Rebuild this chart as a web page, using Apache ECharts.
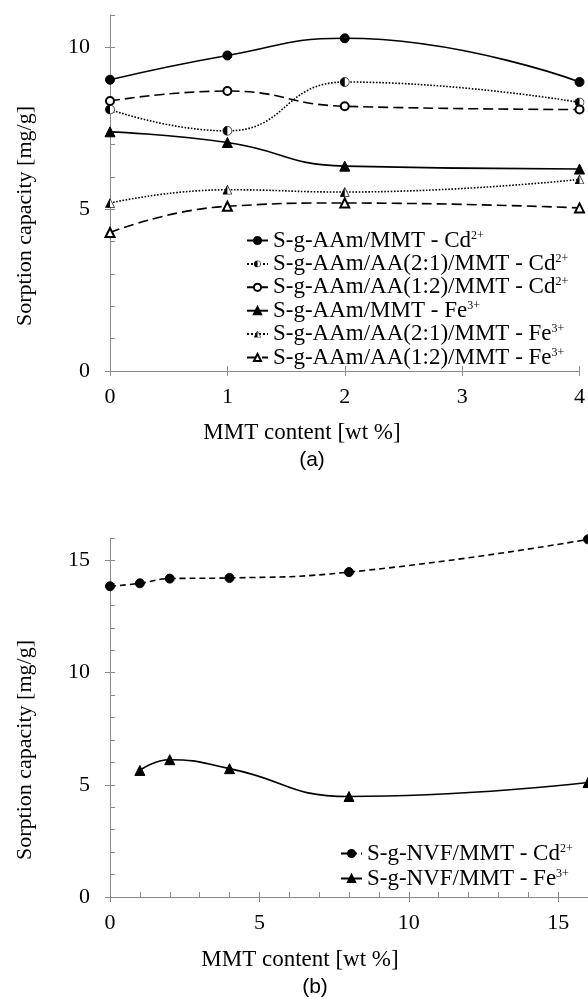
<!DOCTYPE html>
<html>
<head>
<meta charset="utf-8">
<script src="https://cdn.jsdelivr.net/npm/echarts@6/dist/echarts.min.js"></script>
<style>
  html, body { margin: 0; padding: 0; background: #fff; }
  #chart { width: 588px; height: 999px; }
</style>
</head>
<body>
<div id="chart"></div>
<script>
// ---- data (a) ----
var xA = [0, 1, 2, 4];
var namesA = [
  'S-g-AAm/MMT - Cd^2+',
  'S-g-AAm/AA(2:1)/MMT - Cd^2+',
  'S-g-AAm/AA(1:2)/MMT - Cd^2+',
  'S-g-AAm/MMT - Fe^3+',
  'S-g-AAm/AA(2:1)/MMT - Fe^3+',
  'S-g-AAm/AA(1:2)/MMT - Fe^3+'
];
var aamCd   = [9.0, 9.75, 10.28, 8.93];
var aa21Cd  = [8.08, 7.42, 8.93, 8.3];
var aa12Cd  = [8.34, 8.65, 8.18, 8.08];
var aamFe   = [7.39, 7.06, 6.33, 6.24];
var aa21Fe  = [5.19, 5.6, 5.53, 5.92];
var aa12Fe  = [4.28, 5.09, 5.19, 5.04];
var yTicksA = [0, 5, 10];
var xTicksA = [0, 1, 2, 3, 4];

// ---- data (b) ----
var xCdB = [0, 1, 2, 4, 8, 16];
var xFeB = [1, 2, 4, 8, 16];
var namesB = ['S-g-NVF/MMT - Cd^2+', 'S-g-NVF/MMT - Fe^3+'];
var nvfCd = [13.85, 13.98, 14.19, 14.22, 14.48, 15.94];
var nvfFe = [5.64, 6.12, 5.72, 4.48, 5.1];
var yTicksB = [0, 5, 10, 15];
var xTicksB = [0, 5, 10, 15];

var serif = '"Liberation Serif", "Times New Roman", serif';
var axisGray = '#8a8a8a';

function svgSym(svg) {
  return 'image://data:image/svg+xml;charset=utf-8,' + encodeURIComponent(svg);
}
// half-filled markers (left half black)
var halfCircle = svgSym("<svg xmlns='http://www.w3.org/2000/svg' width='20' height='20' viewBox='0 0 20 20'><circle cx='10' cy='10' r='9' fill='white' stroke='black' stroke-width='1.5'/><path d='M10 1 A9 9 0 0 0 10 19 Z' fill='black'/></svg>");
var halfTri = svgSym("<svg xmlns='http://www.w3.org/2000/svg' width='20' height='20' viewBox='0 0 20 20'><polygon points='10,1 19,19 1,19' fill='white' stroke='black' stroke-width='1.4'/><polygon points='10,1 10,19 1,19' fill='black'/></svg>");

function pairs(xs, ys) {
  return ys.map(function (v, i) { return [xs[i], v]; });
}

function lineSeries(name, xi, xs, ys, symbol, size, lineType) {
  return {
    name: name,
    type: 'line',
    xAxisIndex: xi,
    yAxisIndex: xi,
    data: pairs(xs, ys),
    smooth: true,
    symbol: symbol,
    symbolSize: size,
    showAllSymbol: true,
    itemStyle: { color: '#000', borderColor: '#000', borderWidth: 1 },
    lineStyle: { color: '#000', width: 1.6, type: lineType },
    emphasis: { disabled: true },
    z: 3
  };
}

function legendFmt(name) {
  var p = name.split('^');
  return '{m|' + p[0] + '}{s|' + p[1] + '}';
}
var legendText = {
  color: '#000',
  rich: {
    m: { fontFamily: serif, fontSize: 23, lineHeight: 22, color: '#000' },
    s: { fontFamily: serif, fontSize: 12, lineHeight: 12, verticalAlign: 'top', color: '#000' }
  }
};

function mainX(grid, max, labels) {
  return {
    type: 'value', gridIndex: grid, min: 0, max: max, interval: 1,
    axisLine: { onZero: false, lineStyle: { color: axisGray, width: 1 } },
    axisTick: { inside: true, length: 5, lineStyle: { color: axisGray } },
    axisLabel: { customValues: labels, margin: 15, color: '#000', fontFamily: serif, fontSize: 22 },
    splitLine: { show: false }
  };
}
function overX(grid, max, ticks) {
  return {
    type: 'value', gridIndex: grid, min: 0, max: max, position: 'bottom', offset: 0,
    axisLine: { show: false, onZero: false },
    axisTick: { inside: false, length: 5, customValues: ticks, lineStyle: { color: axisGray } },
    axisLabel: { show: false },
    splitLine: { show: false }
  };
}
function mainY(grid, max, labels) {
  return {
    type: 'value', gridIndex: grid, min: 0, max: max, interval: 1,
    axisLine: { show: true, onZero: false, lineStyle: { color: axisGray, width: 1 } },
    axisTick: { show: true, inside: true, length: 5, lineStyle: { color: axisGray } },
    axisLabel: { customValues: labels, margin: 20, color: '#000', fontFamily: serif, fontSize: 22 },
    splitLine: { show: false }
  };
}
function overY(grid, max, ticks) {
  return {
    type: 'value', gridIndex: grid, min: 0, max: max, position: 'left', offset: 0,
    axisLine: { show: false, onZero: false },
    axisTick: { show: true, inside: false, length: 5, customValues: ticks, lineStyle: { color: axisGray } },
    axisLabel: { show: false },
    splitLine: { show: false }
  };
}

function label(text, x, y, size, family, rot) {
  return {
    type: 'text', x: x, y: y, rotation: rot || 0, silent: true,
    style: { text: text, fill: '#000', fontSize: size, fontFamily: family, align: 'center', verticalAlign: 'middle' }
  };
}

var chart = echarts.init(document.getElementById('chart'));
var option = {
  backgroundColor: '#fff',
  animation: false,
  grid: [
    { left: 110, right: 0, top: 15, bottom: 628 },
    { left: 110, right: 0, top: 538, bottom: 102 }
  ],
  xAxis: [mainX(0, 4, xTicksA), overX(0, 4, xTicksA), mainX(1, 16, xTicksB), overX(1, 16, xTicksB)],
  yAxis: [mainY(0, 11, yTicksA), overY(0, 11, yTicksA), mainY(1, 16, yTicksB), overY(1, 16, yTicksB)],
  legend: [
    {
      data: namesA, orient: 'vertical', left: 246, top: 229, padding: 0,
      itemWidth: 21, itemHeight: 9, itemGap: 0.4, selectedMode: false,
      formatter: legendFmt, textStyle: legendText
    },
    {
      data: namesB, orient: 'vertical', left: 340, top: 842, padding: 0,
      itemWidth: 21, itemHeight: 9, itemGap: 2, selectedMode: false,
      formatter: legendFmt, textStyle: legendText
    }
  ],
  graphic: [
    label('Sorption capacity [mg/g]', 25, 216, 22, serif, Math.PI / 2),
    label('MMT content [wt %]', 302, 433, 23, serif),
    label('(a)', 312, 460, 21, '"Liberation Sans", Arial, sans-serif'),
    label('Sorption capacity [mg/g]', 25, 750, 22, serif, Math.PI / 2),
    label('MMT content [wt %]', 300, 960, 23, serif),
    label('(b)', 315, 987, 21, '"Liberation Sans", Arial, sans-serif')
  ],
  series: [
    lineSeries(namesA[0], 0, xA, aamCd, 'circle', 9, 'solid'),
    lineSeries(namesA[1], 0, xA, aa21Cd, halfCircle, 10, 'dotted'),
    lineSeries(namesA[2], 0, xA, aa12Cd, 'emptyCircle', 8, [10, 5]),
    lineSeries(namesA[3], 0, xA, aamFe, 'triangle', 10, 'solid'),
    lineSeries(namesA[4], 0, xA, aa21Fe, halfTri, 10, 'dotted'),
    lineSeries(namesA[5], 0, xA, aa12Fe, 'emptyTriangle', 9, [10, 5]),
    lineSeries(namesB[0], 2, xCdB, nvfCd, 'circle', 9, [6, 4]),
    lineSeries(namesB[1], 2, xFeB, nvfFe, 'triangle', 10, 'solid')
  ]
};
chart.setOption(option);
</script>
</body>
</html>
